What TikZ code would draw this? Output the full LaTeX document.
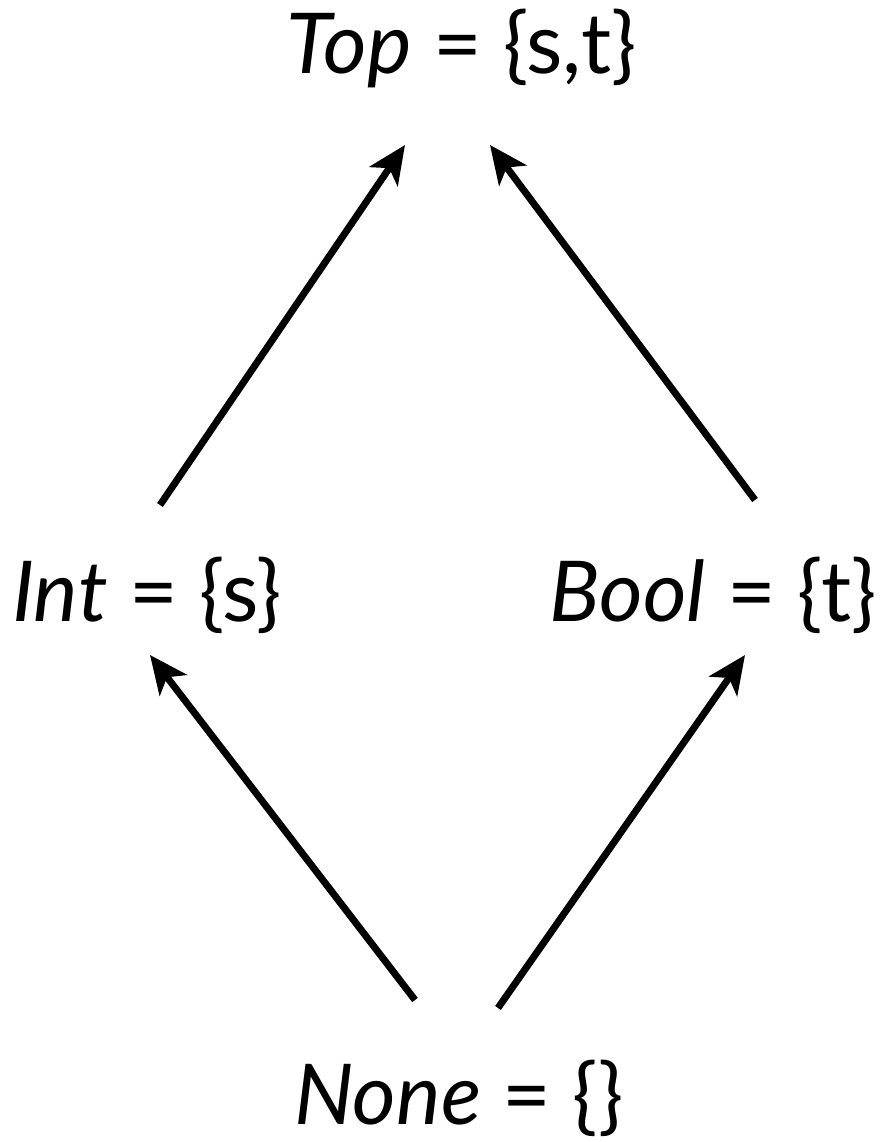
\documentclass[tikz,border=0pt]{standalone}
\usepackage{fontspec}
\setmainfont{Lato}
\usetikzlibrary{arrows.meta,calc}
\tikzset{
  setlabel/.style={anchor=base,inner sep=0pt,font=\fontsize{42}{50}\selectfont},
  order/.style={-{Stealth[length=19pt,width=17pt,inset=5pt]},line width=3.5pt,black},
}
\begin{document}
\begin{tikzpicture}[x=0.5pt,y=0.5pt]
  \useasboundingbox (0,0) rectangle (880,1142);
  % lattice elements
  \node[setlabel] (top)  at (462,1068) {\textit{Top} = \{s,t\}};
  \node[setlabel] (int)  at (147,520)  {\textit{Int} = \{s\}};
  \node[setlabel] (bool) at (713,520)  {\textit{Bool} = \{t\}};
  \node[setlabel] (none) at (459,18)   {\textit{None} = \{\}};
  % ordering
  \draw[order] ($(int.base)+(13,117)$)   -- ($(top.base)+(-57,-71)$);
  \draw[order] ($(bool.base)+(42,122)$)  -- ($(top.base)+(28,-71)$);
  \draw[order] ($(none.base)+(-44,124)$) -- ($(int.base)+(3,-33)$);
  \draw[order] ($(none.base)+(39,116)$)  -- ($(bool.base)+(32,-33)$);
\end{tikzpicture}
\end{document}
